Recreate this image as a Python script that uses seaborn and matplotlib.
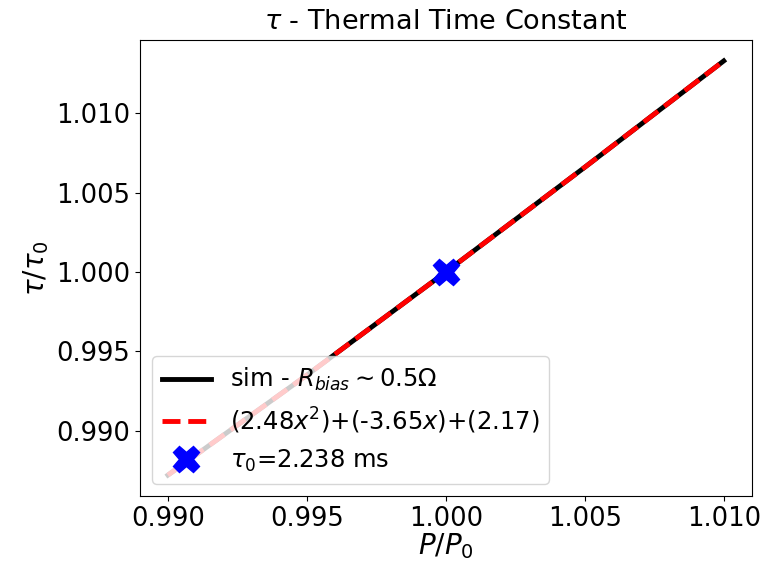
import numpy as np
import pandas as pd
import matplotlib
matplotlib.use("Agg")
import matplotlib.pyplot as plt
import seaborn as sns

# Data
p_ratio = [0.990, 0.995, 1.000, 1.005, 1.010]
tau_sim = [0.9872, 0.9935, 1.0000, 1.0066, 1.0133]
tau_fit = [0.9872, 0.9935, 1.0000, 1.0066, 1.0133]
tau0_x = [1.000]
tau0_y = [1.000]
xticks = [0.990, 0.995, 1.000, 1.005, 1.010]
yticks = [0.990, 0.995, 1.000, 1.005, 1.010]

df = pd.DataFrame({"x": p_ratio, "sim": tau_sim, "fit": tau_fit})

fig, ax = plt.subplots(figsize=(7.74, 5.66), dpi=100)
sns.lineplot(data=df, x="x", y="sim", ax=ax, color="black", lw=3.5,
             label=r"sim - $R_{bias}\sim0.5\Omega$")
sns.lineplot(data=df, x="x", y="fit", ax=ax, color="red", lw=3.5,
             linestyle="--", label=r"(2.48$x^2$)+(-3.65$x$)+(2.17)")
ax.plot(tau0_x, tau0_y, linestyle="none", marker="X", color="blue",
        markersize=19, label=r"$\tau_0$=2.238 ms")

ax.set_xticks(xticks)
ax.set_yticks(yticks)
ax.set_xticklabels([f"{t:.3f}" for t in xticks])
ax.set_yticklabels([f"{t:.3f}" for t in yticks])
ax.tick_params(labelsize=18.5)
ax.set_xlabel(r"$P/P_0$", fontsize=20, labelpad=0)
ax.set_ylabel(r"$\tau/\tau_0$", fontsize=20, labelpad=4)
ax.set_title(r"$\tau$ - Thermal Time Constant", fontsize=19.5, pad=8)
ax.legend(loc="lower left", fontsize=17.5, handlelength=2.0)
fig.subplots_adjust(left=0.181, right=0.971, top=0.929, bottom=0.124)
fig.savefig("out.png", dpi=100)
